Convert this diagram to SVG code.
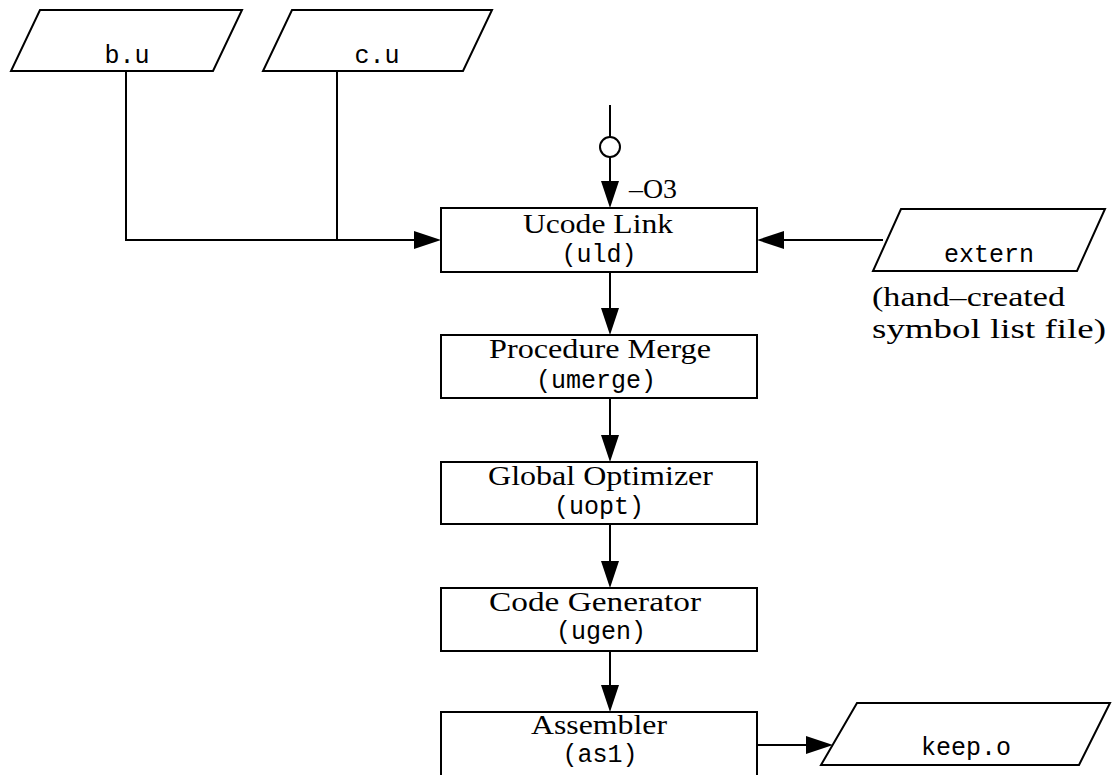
<svg xmlns="http://www.w3.org/2000/svg" width="1112" height="775" viewBox="0 0 1112 775">
  <style>
    .shape { fill: #fff; stroke: #000; stroke-width: 2; }
    .wire { fill: none; stroke: #000; stroke-width: 2; }
    .serif { font-family: "Liberation Serif", "Times New Roman", serif; font-size: 27px; fill: #000; }
    .mono { font-family: "Liberation Mono", "Courier New", monospace; font-size: 25px; fill: #000; }
    .mid { text-anchor: middle; }
  </style>
  <defs>
    <marker id="head" viewBox="0 0 27 18" refX="23" refY="9" markerWidth="27" markerHeight="18" markerUnits="userSpaceOnUse" orient="auto">
      <path d="M0,0 L27,9 L0,18 Z" fill="#000"/>
    </marker>
  </defs>

  <rect width="1112" height="775" fill="#fff"/>

  <!-- connectors -->
  <g id="connectors">
    <polyline class="wire" points="126,71 126,240 437,240" marker-end="url(#head)"/>
    <line class="wire" x1="337" y1="71" x2="337" y2="240"/>
    <line class="wire" x1="610" y1="105" x2="610" y2="137"/>
    <circle class="shape" cx="610" cy="147" r="10"/>
    <line class="wire" x1="610" y1="157" x2="610" y2="204" marker-end="url(#head)"/>
    <line class="wire" x1="883" y1="240" x2="761" y2="240" marker-end="url(#head)"/>
    <line class="wire" x1="610" y1="272" x2="610" y2="331" marker-end="url(#head)"/>
    <line class="wire" x1="610" y1="398" x2="610" y2="458" marker-end="url(#head)"/>
    <line class="wire" x1="610" y1="524" x2="610" y2="584" marker-end="url(#head)"/>
    <line class="wire" x1="610" y1="651" x2="610" y2="708" marker-end="url(#head)"/>
    <line class="wire" x1="757" y1="745" x2="829" y2="745" marker-end="url(#head)"/>
    <text class="serif" x="629" y="198" textLength="48" lengthAdjust="spacingAndGlyphs">–O3</text>
  </g>

  <!-- input files -->
  <g id="file-b">
    <polygon class="shape" points="40,10 242,10 213,71 11,71"/>
    <text class="mono mid" x="127" y="63">b.u</text>
  </g>
  <g id="file-c">
    <polygon class="shape" points="292,10 492,10 463,71 263,71"/>
    <text class="mono mid" x="377" y="63">c.u</text>
  </g>
  <g id="file-extern">
    <polygon class="shape" points="901,209 1105,209 1077,271 873,271"/>
    <text class="mono mid" x="989" y="262">extern</text>
    <text class="serif" x="872" y="306" textLength="193" lengthAdjust="spacingAndGlyphs">(hand–created</text>
    <text class="serif" x="872" y="338" textLength="234" lengthAdjust="spacingAndGlyphs">symbol list file)</text>
  </g>

  <!-- pipeline stages -->
  <g id="stage-uld">
    <rect class="shape" x="441" y="208" width="316" height="64"/>
    <text class="serif" x="523" y="233" textLength="150" lengthAdjust="spacingAndGlyphs">Ucode Link</text>
    <text class="mono mid" x="599" y="262">(uld)</text>
  </g>
  <g id="stage-umerge">
    <rect class="shape" x="441" y="335" width="316" height="63"/>
    <text class="serif" x="489" y="358" textLength="222" lengthAdjust="spacingAndGlyphs">Procedure Merge</text>
    <text class="mono mid" x="596" y="388">(umerge)</text>
  </g>
  <g id="stage-uopt">
    <rect class="shape" x="441" y="462" width="316" height="62"/>
    <text class="serif" x="488" y="485" textLength="225" lengthAdjust="spacingAndGlyphs">Global Optimizer</text>
    <text class="mono mid" x="599" y="514">(uopt)</text>
  </g>
  <g id="stage-ugen">
    <rect class="shape" x="441" y="588" width="316" height="63"/>
    <text class="serif" x="489" y="611" textLength="212" lengthAdjust="spacingAndGlyphs">Code Generator</text>
    <text class="mono mid" x="601" y="639">(ugen)</text>
  </g>
  <g id="stage-as1">
    <rect class="shape" x="441" y="712" width="316" height="68"/>
    <text class="serif" x="531" y="734" textLength="136" lengthAdjust="spacingAndGlyphs">Assembler</text>
    <text class="mono mid" x="600" y="762">(as1)</text>
  </g>

  <!-- output file -->
  <g id="file-keep">
    <polygon class="shape" points="857,703 1110,703 1079,765 821,765"/>
    <text class="mono mid" x="966" y="755">keep.o</text>
  </g>
</svg>
